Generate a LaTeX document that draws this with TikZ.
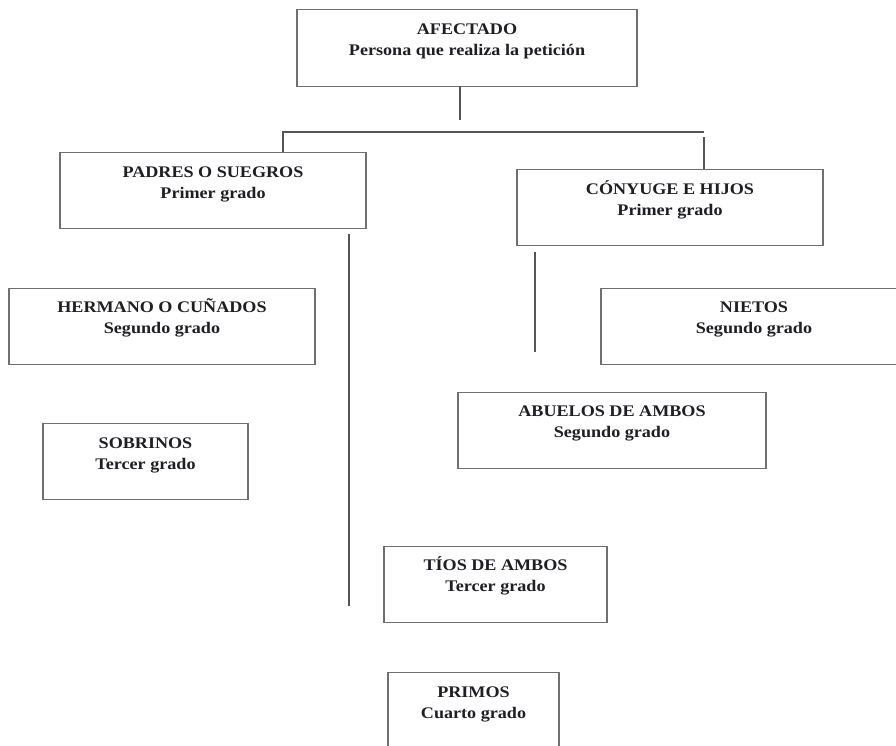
\documentclass[tikz,border=0pt]{standalone}
\usepackage{fontspec}
\setmainfont{Liberation Serif}[FakeStretch=1.12]
\usetikzlibrary{positioning}

\definecolor{borde}{HTML}{707070}
\definecolor{linea}{HTML}{555555}
\definecolor{tinta}{HTML}{1E1E24}

\tikzset{
  caja/.style={draw=borde, line width=0.8pt, anchor=north, inner sep=0pt,
    minimum height=76*0.025cm, minimum width=#1*0.025cm},
  rotulo/.style={anchor=north, inner sep=0pt, align=center, text=tinta,
    font=\bfseries\fontsize{11.5}{15}\selectfont},
  rama/.style={draw=linea, line width=1pt}
}

\begin{document}
\begin{tikzpicture}[x=0.025cm, y=-0.025cm]

    % Define page
    \fill[white] (0,0) rectangle (896,745);
    \useasboundingbox (0,0) rectangle (896,745);
    \clip (0,0) rectangle (896,745);

    % Define boxes
    \node[caja=340, minimum height=77*0.025cm] (afectado) at (467,9) {};
    \node[caja=306] (padres) at (213,152) {};
    \node[caja=306] (conyuge) at (670,169) {};
    \node[caja=306] (hermanos) at (162,288) {};
    \node[caja=306] (nietos) at (754,288) {};
    \node[caja=205] (sobrinos) at (145.5,423) {};
    \node[caja=308] (abuelos) at (612,392) {};
    \node[caja=223] (tios) at (495.5,546) {};
    \node[caja=171] (primos) at (473.5,672) {};

    % Define texts
    \node[rotulo, yshift=-7.3pt] (t-afectado) at (afectado.north) {\strut AFECTADO\\Persona que realiza la petición};
    \node[rotulo, yshift=-7.3pt] (t-padres) at (padres.north) {\strut PADRES O SUEGROS\\Primer grado};
    \node[rotulo, yshift=-7.3pt] (t-conyuge) at (conyuge.north) {\strut CÓNYUGE E HIJOS\\Primer grado};
    \node[rotulo, yshift=-6.5pt] (t-hermanos) at (hermanos.north) {\strut HERMANO O CUÑADOS\\Segundo grado};
    \node[rotulo, yshift=-6.5pt] (t-nietos) at (nietos.north) {\strut NIETOS\\Segundo grado};
    \node[rotulo, yshift=-7.3pt] (t-sobrinos) at (sobrinos.north) {\strut SOBRINOS\\Tercer grado};
    \node[rotulo, yshift=-6.5pt] (t-abuelos) at (abuelos.north) {\strut ABUELOS DE AMBOS\\Segundo grado};
    \node[rotulo, yshift=-6.5pt] (t-tios) at (tios.north) {\strut TÍOS DE AMBOS\\Tercer grado};
    \node[rotulo, yshift=-7.3pt] (t-primos) at (primos.north) {\strut PRIMOS\\Cuarto grado};

    % Define line ends
    \coordinate (a1) at (460,86);
    \coordinate (a2) at (460,120);
    \coordinate (h1) at (283,132);
    \coordinate (h2) at (704,132);
    \coordinate (h3) at (283,152);
    \coordinate (h4) at (704,137);
    \coordinate (h5) at (704,169);
    \coordinate (p1) at (349,234);
    \coordinate (p2) at (349,606);
    \coordinate (c1) at (535,252);
    \coordinate (c2) at (535,352);

    % Connect afectado to branches
    \draw[rama] (a1) -- (a2);
    \draw[rama] (h3) -- (h1) -- (h2);
    \draw[rama] (h4) -- (h5);

    % Loose lines below padres and conyuge
    \draw[rama] (p1) -- (p2);
    \draw[rama] (c1) -- (c2);

\end{tikzpicture}
\end{document}
